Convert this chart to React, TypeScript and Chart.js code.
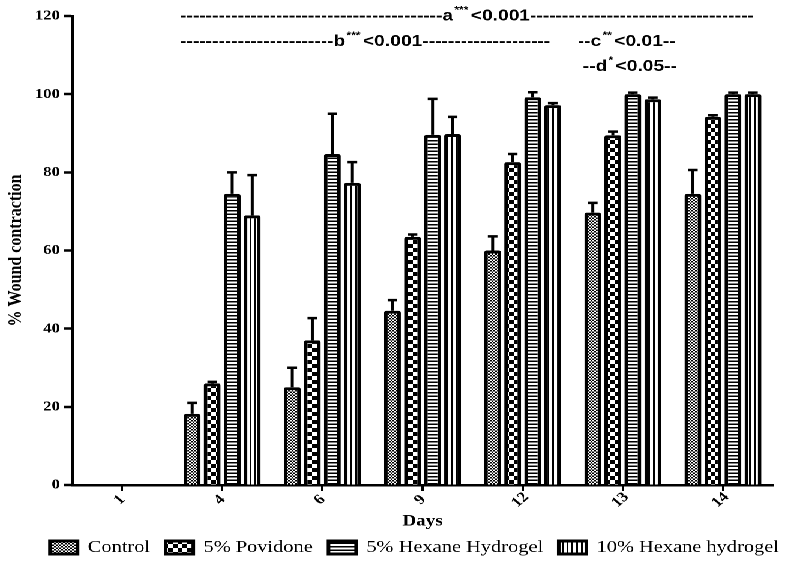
import React, { useEffect, useRef } from "react";
import { Chart, registerables } from "chart.js";

Chart.register(...registerables);

// ---------- data ----------
const days = ["1", "4", "6", "9", "12", "13", "14"];
const seriesLabels = ["Control", "5% Povidone", "5% Hexane Hydrogel", "10% Hexane hydrogel"];
const controlMean = [null, 18.2, 25, 44.6, 60, 69.7, 74.5];
const controlErr = [0, 2.8, 5, 2.7, 3.6, 2.5, 6.1];
const povidoneMean = [null, 26, 37, 63.5, 82.6, 89.5, 94.2];
const povidoneErr = [0, 0.4, 5.7, 0.6, 2.1, 0.9, 0.4];
const hexane5Mean = [null, 74.5, 84.7, 89.6, 99.2, 100, 100];
const hexane5Err = [0, 5.5, 10.3, 9.2, 1.3, 0.4, 0.4];
const hexane10Mean = [null, 69, 77.3, 89.8, 97.2, 98.7, 100];
const hexane10Err = [0, 10.3, 5.3, 4.4, 0.5, 0.4, 0.4];
const yTickValues = [0, 20, 40, 60, 80, 100, 120];
const sigLetters = ["a", "b", "c", "d"];
const sigStars = ["***", "***", "**", "*"];
const sigValues = ["<0.001", "<0.001", "<0.01", "<0.05"];

// layout of significance lines (x in category units from the left edge, y in data units)
const sigLayout = [
  { y: 120, from: 1.08, label: 3.68, to: 6.82 },
  { y: 113.4, from: 1.08, label: 2.61, to: 4.77 },
  { y: 113.4, from: 5.05, label: 5.18, to: 6.0 },
  { y: 107, from: 5.1, label: 5.24, to: 6.03 },
];

const SERIF = '"Liberation Serif", "Times New Roman", serif';
const SANS = '"Liberation Sans", Arial, sans-serif';

function makePattern(kind: string): any {
  const c = document.createElement("canvas");
  const g = c.getContext("2d")!;
  const setup = (w: number, h: number) => {
    c.width = w;
    c.height = h;
    g.fillStyle = "#fff";
    g.fillRect(0, 0, w, h);
    g.fillStyle = "#000";
  };
  if (kind === "fine") {
    setup(6, 6);
    g.fillRect(0, 0, 3, 3);
    g.fillRect(3, 3, 3, 3);
  } else if (kind === "coarse") {
    setup(16, 16);
    g.fillRect(0, 0, 8, 8);
    g.fillRect(8, 8, 8, 8);
  } else if (kind === "hstripe") {
    setup(2, 7);
    g.fillRect(0, 0, 2, 3);
  } else {
    setup(8, 2);
    g.fillRect(0, 0, 3, 2);
  }
  const p = g.createPattern(c, "repeat")!;
  try {
    p.setTransform(new DOMMatrix([0.5, 0, 0, 0.5, 0, 0]));
  } catch (e) {}
  return p;
}

const errorBarPlugin = {
  id: "errorBars",
  afterDatasetsDraw(chart: any) {
    const ctx = chart.ctx;
    const y = chart.scales.y;
    ctx.save();
    ctx.strokeStyle = "#000";
    ctx.lineWidth = 2.5;
    chart.data.datasets.forEach((ds: any, i: number) => {
      const meta = chart.getDatasetMeta(i);
      meta.data.forEach((el: any, j: number) => {
        const v = ds.data[j];
        const e = ds.errors[j];
        if (v == null || !e) return;
        const top = y.getPixelForValue(v + e);
        ctx.beginPath();
        ctx.moveTo(el.x, el.y);
        ctx.lineTo(el.x, top);
        ctx.moveTo(el.x - 4, top);
        ctx.lineTo(el.x + 4, top);
        ctx.stroke();
      });
    });
    ctx.restore();
  },
};

// shift the legend so it sits like the original figure
const legendShiftPlugin = {
  id: "legendShift",
  afterLayout(chart: any) {
    const lg = chart.legend;
    if (!lg) return;
    const target = (chart.chartArea.left + chart.chartArea.right) / 2 - 6.7;
    const cur = (lg.left + lg.right) / 2;
    const d = target - cur;
    lg.left += d;
    lg.right += d;
  },
};

const labelPlugin = {
  id: "customLabels",
  afterDraw(chart: any) {
    const ctx = chart.ctx;
    const xs = chart.scales.x;
    const ys = chart.scales.y;
    const area = chart.chartArea;
    ctx.save();
    ctx.fillStyle = "#000";
    // x tick labels, rotated
    ctx.font = `bold 14px ${SERIF}`;
    ctx.textAlign = "center";
    ctx.textBaseline = "middle";
    days.forEach((d, i) => {
      const px = xs.getPixelForTick(i);
      ctx.save();
      ctx.translate(px - 2, area.bottom + 15);
      ctx.rotate(-Math.PI / 4);
      ctx.fillText(d, 0, 0);
      ctx.restore();
    });
    // significance lines
    const catW = area.width / days.length;
    ctx.textAlign = "left";
    const mainFont = `bold 16px ${SANS}`;
    const supFont = `bold 10px ${SANS}`;
    sigLayout.forEach((L, k) => {
      const yPix = ys.getPixelForValue(L.y);
      const x0 = area.left + L.from * catW;
      const xl = area.left + L.label * catW;
      const x1 = area.left + L.to * catW;
      ctx.font = mainFont;
      const dw = ctx.measureText("-").width;
      const nl = Math.max(0, Math.round((xl - x0) / dw));
      const leftStr = "-".repeat(nl) + sigLetters[k];
      ctx.fillText(leftStr, x0, yPix);
      let x = x0 + ctx.measureText(leftStr).width + 1;
      ctx.font = supFont;
      ctx.fillText(sigStars[k], x, yPix - 6);
      x += ctx.measureText(sigStars[k]).width + 2;
      ctx.font = mainFont;
      ctx.fillText(sigValues[k], x, yPix);
      x += ctx.measureText(sigValues[k]).width;
      const nr = Math.max(0, Math.round((x1 - x) / dw));
      ctx.fillText("-".repeat(nr), x, yPix);
    });
    ctx.restore();
  },
};

export default function App() {
  const ref = useRef<HTMLCanvasElement | null>(null);
  useEffect(() => {
    if (!ref.current) return;
    const patterns = [makePattern("fine"), makePattern("coarse"), makePattern("hstripe"), makePattern("vstripe")];
    const means = [controlMean, povidoneMean, hexane5Mean, hexane10Mean];
    const errs = [controlErr, povidoneErr, hexane5Err, hexane10Err];
    const datasets: any[] = seriesLabels.map((label, i) => ({
      label,
      data: means[i],
      errors: errs[i],
      backgroundColor: patterns[i],
      borderColor: "#000",
      borderWidth: 3,
      borderSkipped: "start",
      borderRadius: { topLeft: 2, topRight: 2, bottomLeft: 0, bottomRight: 0 },
      categoryPercentage: 0.8,
      barPercentage: 0.84,
    }));
    const chart = new Chart(ref.current, {
      type: "bar",
      data: { labels: days, datasets },
      options: {
        animation: false,
        responsive: true,
        maintainAspectRatio: false,
        devicePixelRatio: 2,
        layout: { padding: { left: 0, right: 15, top: 16, bottom: 0 } },
        plugins: {
          tooltip: { enabled: false },
          legend: {
            position: "bottom",
            labels: {
              color: "#000",
              font: { family: SERIF, size: 17 },
              boxWidth: 23,
              boxHeight: 13,
              padding: 13,
            },
          },
        },
        scales: {
          x: {
            grid: {
              display: true,
              drawOnChartArea: false,
              offset: false,
              drawTicks: true,
              tickLength: 6,
              tickWidth: 2,
              tickColor: "#000",
            },
            border: { display: true, color: "#000", width: 2.5 },
            ticks: { display: false },
            title: {
              display: true,
              text: "Days",
              color: "#000",
              font: { family: SERIF, size: 16, weight: "bold" },
              padding: { top: 0, bottom: -5 },
            },
            afterFit: (s: any) => {
              const lh = s.chart.legend ? s.chart.legend.height : 0;
              s.height = s.chart.height - 485 - lh;
            },
          },
          y: {
            min: 0,
            max: 120,
            afterBuildTicks: (s: any) => {
              s.ticks = yTickValues.map((v) => ({ value: v }));
            },
            ticks: {
              color: "#000",
              font: { family: SERIF, size: 14, weight: "bold" },
              padding: 3,
            },
            grid: {
              display: true,
              drawOnChartArea: false,
              tickLength: 7,
              tickWidth: 2.5,
              tickColor: "#000",
            },
            border: { display: true, color: "#000", width: 2.5 },
            title: {
              display: true,
              text: "% Wound contraction",
              color: "#000",
              font: { family: SERIF, size: 16, weight: "bold" },
              padding: { top: 4, bottom: 0 },
            },
            afterFit: (s: any) => {
              s.width = 60;
            },
          },
        },
      } as any,
      plugins: [legendShiftPlugin, errorBarPlugin, labelPlugin],
    });
    return () => chart.destroy();
  }, []);
  return (
    <div
      style={{
        position: "absolute",
        left: 0,
        top: 0,
        width: 659,
        height: 566,
        transform: "scaleX(1.2003)",
        transformOrigin: "0 0",
        background: "#fff",
      }}
    >
      <canvas ref={ref} />
    </div>
  );
}
